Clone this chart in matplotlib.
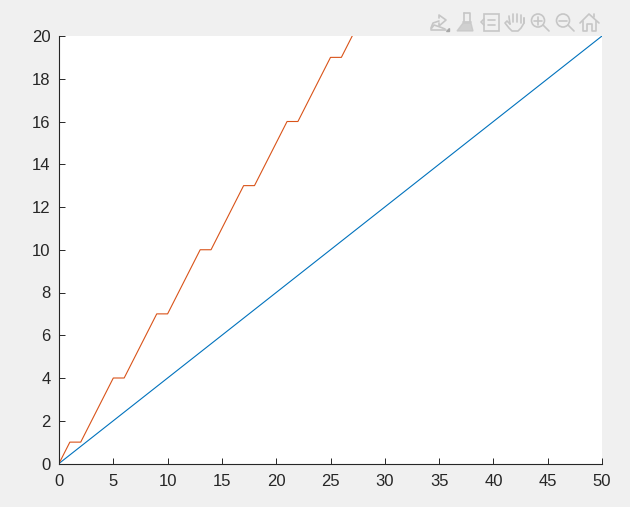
import matplotlib
matplotlib.use("Agg")
import matplotlib.pyplot as plt
from matplotlib.patches import Circle, Rectangle, Polygon

plt.rcParams['font.family'] = ['Liberation Sans', 'DejaVu Sans']

blue_x = [0, 50]
blue_y = [0, 20]
red_x = [0, 1, 2, 5, 6, 9, 10, 13, 14, 17, 18, 21, 22, 25, 26, 29]
red_y = [0, 1, 1, 4, 4, 7, 7, 10, 10, 13, 13, 16, 16, 19, 19, 22]
x_ticks = list(range(0, 55, 5))
y_ticks = list(range(0, 22, 2))

W, H = 630, 507
fig = plt.figure(figsize=(W / 100, H / 100), dpi=100, facecolor='#f0f0f0')
ax = fig.add_axes([59 / W, 1 - 463.5 / H, 543 / W, 427.5 / H])

ax.plot(blue_x, blue_y, color='#0072BD', lw=0.8)
ax.plot(red_x, red_y, color='#D95319', lw=0.8)

ax.set_xlim(0, 50)
ax.set_ylim(0, 20)
ax.set_xticks(x_ticks)
ax.set_yticks(y_ticks)
ax.spines['top'].set_visible(False)
ax.spines['right'].set_visible(False)
for s in ('left', 'bottom'):
    ax.spines[s].set_color('#262626')
    ax.spines[s].set_linewidth(0.8)
ax.tick_params(direction='in', length=4, width=0.7, color='#262626',
               labelcolor='#262626', labelsize=12)
ax.tick_params(axis='x', pad=7.5)
ax.tick_params(axis='y', pad=6)

# toolbar icons, drawn in pixel coordinates on an overlay
ov = fig.add_axes([0, 0, 1, 1], facecolor='none')
ov.set_xlim(0, W)
ov.set_ylim(H, 0)
ov.axis('off')
grey = '#c6c6c6'
kw = dict(color=grey, lw=1.2, solid_capstyle='round')


def line(xs, ys):
    ov.plot(xs, ys, **kw)


# edit pointer
line([431, 433, 439], [28, 23, 21])
line([439, 439, 446, 439, 439], [18, 15, 20, 26, 23])
line([431, 434, 440, 445], [29, 25, 27, 29])
line([431, 446], [30, 30])
ov.add_patch(Polygon([[446, 31], [449, 31], [449, 28]], color='#a8a8a8'))
# brush
line([464, 470, 470], [13, 13, 21])
line([464, 464], [13, 21])
line([463, 471], [22, 22])
ov.add_patch(Polygon([[463, 23], [471, 23], [473, 31], [457, 31]], color=grey, alpha=0.75))
# legend
ov.add_patch(Rectangle((484, 13.5), 14.5, 17, fill=False, ec=grey, lw=1.2))
line([484, 481, 484], [19, 22, 25])
line([488, 495], [20, 20])
line([488, 495], [25, 25])
# hand
line([510, 507, 505, 509, 512, 518, 521, 524, 524],
     [24, 21, 23, 28, 31, 31, 28, 23, 18])
line([510, 509, 509], [24, 17, 16])
line([513, 513], [22, 14])
line([517, 517], [22, 14])
line([521, 521], [23, 15])
line([524, 524], [23, 18])
# zoom in
ov.add_patch(Circle((538, 20.5), 6.5, fill=False, ec=grey, lw=1.2))
line([534, 542], [20.5, 20.5])
line([538, 538], [16.5, 24.5])
line([543, 549], [25, 31])
# zoom out
ov.add_patch(Circle((563, 20.5), 6.5, fill=False, ec=grey, lw=1.2))
line([559, 567], [20.5, 20.5])
line([568, 574], [25, 31])
# home
line([580, 589, 599], [23, 14, 23])
line([583, 583, 587, 587, 592, 592, 596, 596], [21, 31, 31, 24, 24, 31, 31, 21])
line([594, 594], [14, 17])

fig.savefig('out.png', dpi=100, facecolor=fig.get_facecolor())
